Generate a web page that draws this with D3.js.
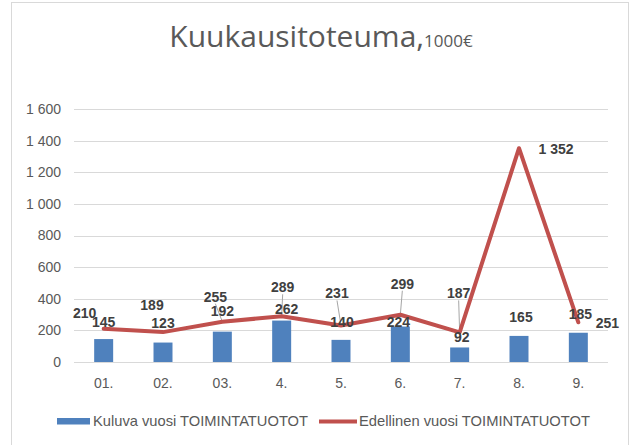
<!DOCTYPE html>
<html>
<head>
<meta charset="utf-8">
<script src="https://cdn.jsdelivr.net/npm/d3@7"></script>
<style>
  body { margin: 0; background: #fff; }
  svg { display: block; font-family: "Liberation Sans", Arial, sans-serif; }
</style>
</head>
<body>
<svg width="630" height="445"></svg>
<script>
const months = ["01.", "02.", "03.", "4.", "5.", "6.", "7.", "8.", "9."];
const kuluva = [145, 123, 192, 262, 140, 224, 92, 165, 185];
const edellinen = [210, 189, 255, 289, 231, 299, 187, 1352, 251];
const yTicks = [0, 200, 400, 600, 800, 1000, 1200, 1400, 1600];

// label nudges (Excel labels were dragged around by hand)
const barLabelShift = [[0, -17], [0, -19], [0, -21], [5, -11], [1, -18], [-2, -4], [2, -10], [2, -19], [2, -19]];
const lineLabelShift = [[-19, -16], [-11, -27], [-7, -25], [1, -29], [-4, -32], [2, -31], [-1, -39], [37, 1], [29, 1]];
const leaders = [2, 3, 4, 5, 6];

const svg = d3.select("svg");
const margin = { left: 74, right: 22, top: 109, bottom: 83 };
const width = 630, height = 445;

const fmt = d3.formatLocale({ decimal: ",", thousands: "\u00a0", grouping: [3], currency: ["", "€"] }).format(",d");

// frame
svg.append("rect")
  .attr("x", 11.5).attr("y", 2.5)
  .attr("width", 617).attr("height", 450)
  .attr("fill", "none").attr("stroke", "#d9d9d9");

const x = d3.scaleBand()
  .domain(months)
  .range([margin.left, width - margin.right])
  .paddingInner(0.68)
  .paddingOuter(0.34);

const y = d3.scaleLinear()
  .domain([0, 1600])
  .range([height - margin.bottom, margin.top]);

const cx = (d) => x(d) + x.bandwidth() / 2;

// grid
svg.append("g")
  .selectAll("line")
  .data(yTicks)
  .join("line")
  .attr("x1", margin.left).attr("x2", width - margin.right)
  .attr("y1", (d) => Math.round(y(d)) + 0.5).attr("y2", (d) => Math.round(y(d)) + 0.5)
  .attr("stroke", "#d9d9d9");

// y axis labels
const yAxis = svg.append("g")
  .attr("transform", `translate(${margin.left - 13},0)`)
  .call(d3.axisLeft(y).tickValues(yTicks).tickFormat(fmt).tickSize(0).tickPadding(0));
yAxis.select(".domain").remove();
yAxis.selectAll("text").attr("font-size", 14).attr("fill", "#595959").attr("font-family", "Liberation Sans, Arial, sans-serif");

// x axis labels
const xAxis = svg.append("g")
  .attr("transform", `translate(0,${height - margin.bottom + 16})`)
  .call(d3.axisBottom(x).tickSize(0).tickPadding(0));
xAxis.select(".domain").remove();
xAxis.selectAll("text").attr("font-size", 14).attr("fill", "#595959").attr("font-family", "Liberation Sans, Arial, sans-serif");

// bars
svg.append("g")
  .selectAll("rect")
  .data(kuluva)
  .join("rect")
  .attr("x", (d, i) => x(months[i]))
  .attr("y", (d) => y(d))
  .attr("width", x.bandwidth())
  .attr("height", (d) => y(0) - y(d))
  .attr("fill", "#4f81bd");

// leader lines
svg.append("g")
  .selectAll("line")
  .data(leaders)
  .join("line")
  .attr("x1", (i) => cx(months[i]) + lineLabelShift[i][0])
  .attr("y1", (i) => y(edellinen[i]) + lineLabelShift[i][1] + 7)
  .attr("x2", (i) => cx(months[i]))
  .attr("y2", (i) => y(edellinen[i]))
  .attr("stroke", "#a6a6a6")
  .attr("stroke-width", 1);

// line
const line = d3.line()
  .x((d, i) => cx(months[i]))
  .y((d) => y(d));

svg.append("path")
  .datum(edellinen)
  .attr("d", line)
  .attr("fill", "none")
  .attr("stroke", "#c0504d")
  .attr("stroke-width", 4)
  .attr("stroke-linejoin", "round")
  .attr("stroke-linecap", "round");

// data labels
svg.append("g")
  .selectAll("text")
  .data(edellinen)
  .join("text")
  .attr("x", (d, i) => cx(months[i]) + lineLabelShift[i][0])
  .attr("y", (d, i) => y(d) + lineLabelShift[i][1])
  .attr("dy", "0.35em")
  .attr("text-anchor", "middle")
  .attr("font-size", 14)
  .attr("font-weight", "bold")
  .attr("fill", "#404040")
  .text((d) => fmt(d));

svg.append("g")
  .selectAll("text")
  .data(kuluva)
  .join("text")
  .attr("x", (d, i) => cx(months[i]) + barLabelShift[i][0])
  .attr("y", (d, i) => y(d) + barLabelShift[i][1])
  .attr("dy", "0.35em")
  .attr("text-anchor", "middle")
  .attr("font-size", 14)
  .attr("font-weight", "bold")
  .attr("fill", "#404040")
  .text((d) => fmt(d));

// title
const title = svg.append("text")
  .attr("x", 321)
  .attr("y", 47)
  .attr("text-anchor", "middle")
  .attr("fill", "#595959")
  .attr("font-family", "Open Sans, sans-serif");
title.append("tspan").attr("font-size", 30).text("Kuukausitoteuma,");
title.append("tspan").attr("font-size", 17).text("1000€");

// legend
const legend = svg.append("g").attr("font-size", 14.5).attr("fill", "#595959");
legend.append("rect")
  .attr("x", 57).attr("y", 418).attr("width", 33).attr("height", 6.5)
  .attr("fill", "#4f81bd");
legend.append("text")
  .attr("x", 93).attr("y", 421).attr("dy", "0.35em")
  .attr("textLength", 215).attr("lengthAdjust", "spacingAndGlyphs")
  .text("Kuluva vuosi TOIMINTATUOTOT");
legend.append("line")
  .attr("x1", 319).attr("x2", 357).attr("y1", 421.5).attr("y2", 421.5)
  .attr("stroke", "#c0504d").attr("stroke-width", 4);
legend.append("text")
  .attr("x", 359).attr("y", 421).attr("dy", "0.35em")
  .attr("textLength", 231).attr("lengthAdjust", "spacingAndGlyphs")
  .text("Edellinen vuosi TOIMINTATUOTOT");
</script>
</body>
</html>
